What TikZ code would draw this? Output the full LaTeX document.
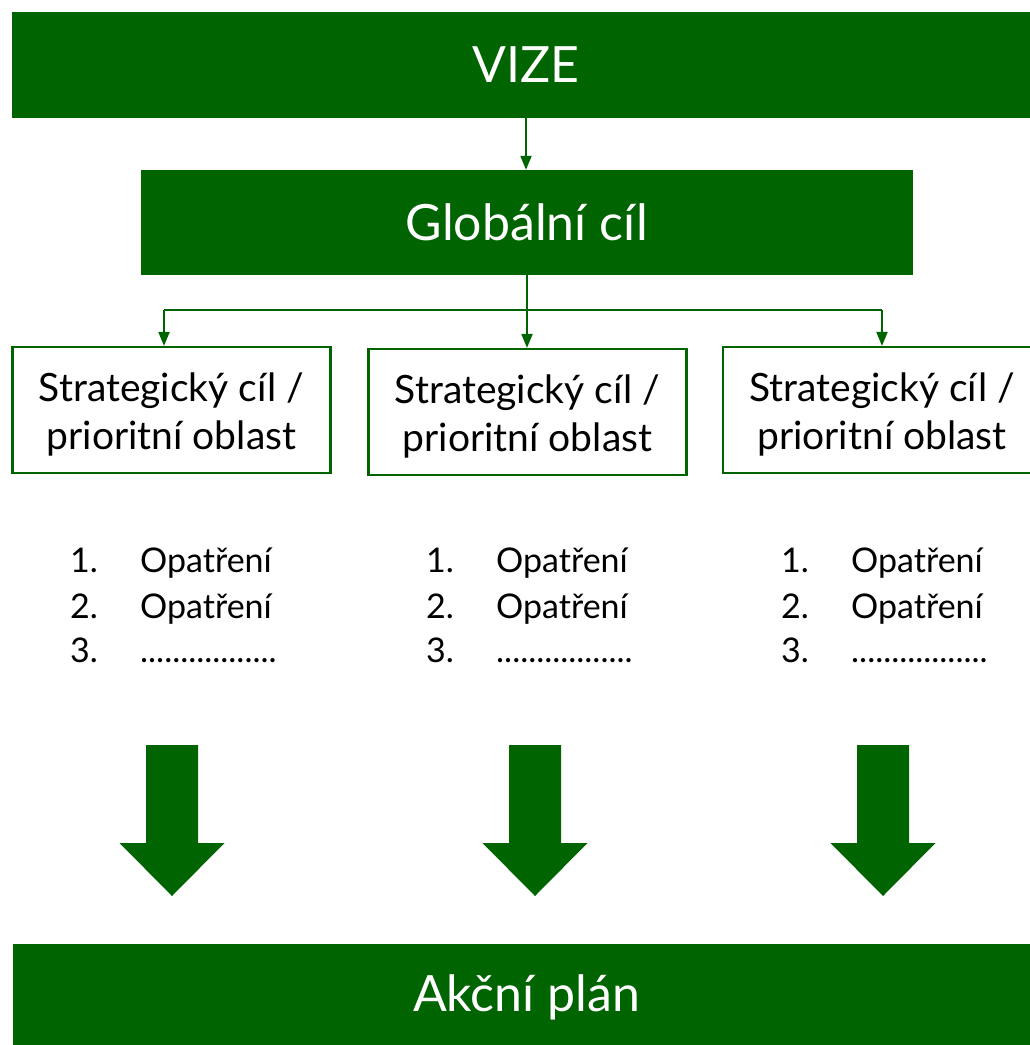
\documentclass[tikz,border=0pt]{standalone}
\usepackage{fontspec}
\setmainfont{Lato}
\usetikzlibrary{arrows.meta}
\definecolor{dg}{RGB}{0,100,0}
\tikzset{
  banner/.style={fill=dg, text=white, inner sep=0pt, font=\fontsize{50}{60}\selectfont},
  stratbox/.style={draw=dg, line width=2.2pt, fill=white, inner sep=0pt,
                   minimum width=318pt, minimum height=126pt},
  strattext/.style={inner sep=0pt, align=center, font=\fontsize{39}{48}\selectfont},
  conn/.style={draw=dg, line width=2pt, -{Triangle[length=14pt,width=11pt]}},
  plainline/.style={draw=dg, line width=2pt},
  listtxt/.style={anchor=base west, inner sep=0pt, font=\fontsize{34}{40}\selectfont},
  bigarrow/.style={fill=dg}
}
\begin{document}
\begin{tikzpicture}[x=1pt,y=-1pt]
\useasboundingbox (0,0) rectangle (1029,1045);
% banners
\node[banner, minimum width=1028pt, minimum height=106pt] (vize) at (526,65) {VIZE};
\node[banner, minimum width=772pt, minimum height=105pt] (glob) at (527,222.5) {Globální cíl};
\node[banner, minimum width=1027pt, minimum height=106pt] (akce) at (526.5,997) {Akční plán};
% strategic boxes
\node[stratbox] (s1) at (171.5,410) {};
\node[stratbox] (s2) at (527.5,412) {};
\node[stratbox] (s3) at (882,410) {};
\foreach \b in {s1,s2,s3}{
  \node[strattext] (\b t) at ([yshift=-4pt]\b.center) {Strategický cíl /\\prioritní oblast};
}
% connectors
\draw[conn] (vize.south) -- (vize.south |- glob.north);
\coordinate (hl) at (164,310);
\coordinate (hr) at (882,310);
\draw[plainline] (hl) -- (hr);
\draw[conn] (glob.south) -- (glob.south |- s2.north);
\draw[conn] (hl) -- (hl |- s1.north);
\draw[conn] (hr) -- (hr |- s3.north);
% lists
\foreach \c/\x in {1/70,2/426,3/781}{
  \node[listtxt] (n\c a) at (\x,572) {1.};
  \node[listtxt] (t\c a) at (\x+70,572) {Opatření};
  \node[listtxt] (n\c b) at (\x,618) {2.};
  \node[listtxt] (t\c b) at (\x+70,618) {Opatření};
  \node[listtxt] (n\c c) at (\x,662) {3.};
  \node[listtxt] (t\c c) at (\x+70,662) {.................};
}
% big arrows
\foreach \cx in {172,535,883}{
  \fill[bigarrow] (\cx-26,745) -- (\cx+26,745) -- (\cx+26,843) -- (\cx+52.5,843)
     -- (\cx,896) -- (\cx-52.5,843) -- (\cx-26,843) -- cycle;
}
\end{tikzpicture}
\end{document}
